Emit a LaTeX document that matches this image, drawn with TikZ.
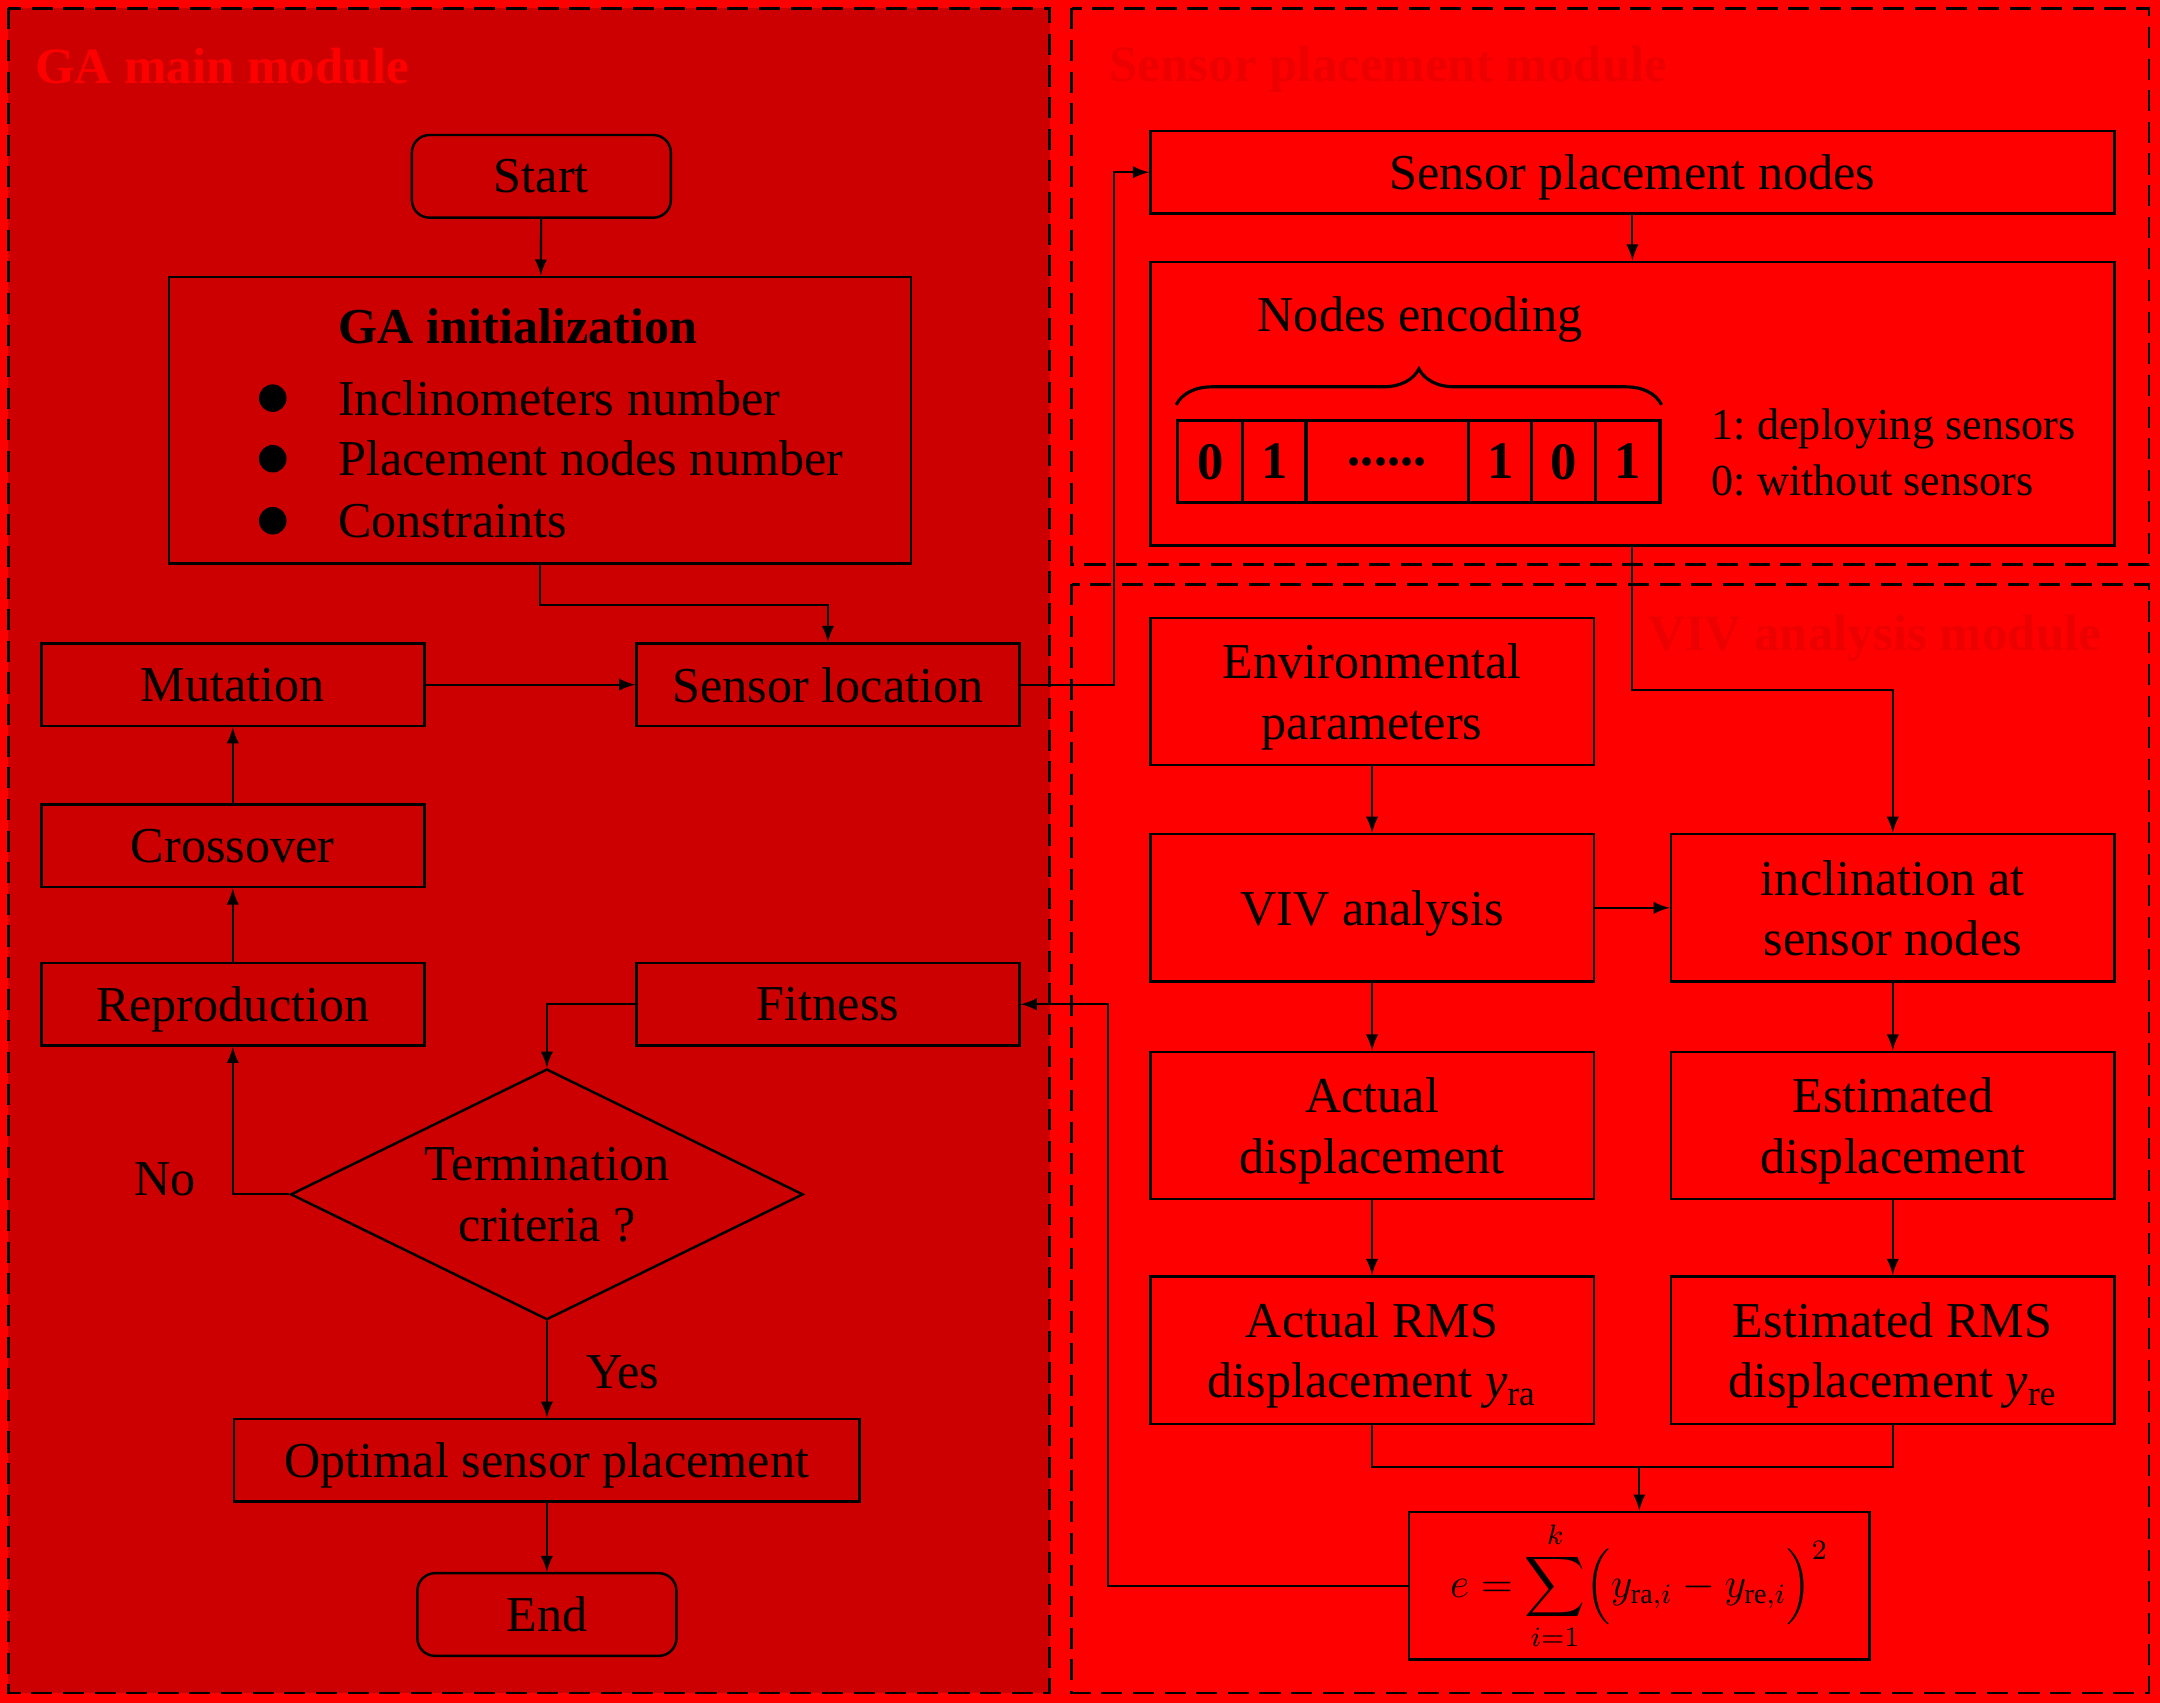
\documentclass[tikz,border=0pt]{standalone}
\usepackage{fontspec}
\setmainfont{Liberation Serif}
\usepackage{amsmath}
\usepackage{tikz}
\usetikzlibrary{shapes.geometric,decorations.pathreplacing,arrows}
\definecolor{vermelho}{RGB}{255,0,0}
\definecolor{vermelhoescuro}{RGB}{204,0,0}
\definecolor{titulodireito}{RGB}{236,0,0}
\newcommand{\unid}{0.013776cm}
\tikzstyle{caixa} = [rectangle, rounded corners=5pt, minimum width=188*\unid, minimum height=60*\unid, text centered, text depth=-0.1em, draw=black, line width=0.7pt, inner sep=0pt]
\tikzstyle{processo} = [rectangle, minimum width=278*\unid, minimum height=60*\unid, text centered, text depth=-0.1em, draw=black, line width=0.7pt, inner sep=0pt, align=center]
\tikzstyle{bloco} = [rectangle, minimum width=322*\unid, minimum height=107*\unid, text centered, text depth=-0.1em, draw=black, line width=0.7pt, inner sep=0pt, align=center]
\tikzstyle{decisao} = [diamond, aspect=2.04, minimum width=372*\unid, minimum height=182*\unid, text depth=-0.1em, draw=black, line width=0.7pt, inner sep=0pt, align=center]
\tikzstyle{celula} = [rectangle, minimum height=60*\unid, text depth=-0.1em, draw=black, line width=0.9pt, inner sep=0pt, font=\fontsize{15}{17}\selectfont\bfseries]
\tikzstyle{legenda} = [anchor=west, inner sep=0pt, font=\fontsize{12.6}{15}\selectfont]
\tikzstyle{modulo} = [dashed, dash pattern=on 6pt off 3pt, line width=0.8pt, draw=black]
\tikzstyle{titulo} = [font=\fontsize{14.5}{17}\selectfont\bfseries, inner sep=0pt]
\tikzstyle{seta} = [line width=0.6pt,->,>=latex]

\begin{document}
\begin{tikzpicture}[x=0.013776cm, y=-0.013776cm, font=\fontsize{14.3}{17.2}\selectfont]
        % Fundo e módulos
        \useasboundingbox (0,0) rectangle (1568,1236);
        \fill[vermelho] (0,0) rectangle (1568,1236);
        \draw[modulo, fill=vermelhoescuro] (6,6) rectangle (762,1229);
        \draw[modulo] (778,6) rectangle (1560,410);
        \draw[modulo] (778,424) rectangle (1560,1229);
        \node (tituloga) [titulo, text=vermelho, anchor=west] at (25,48) {GA main module};
        \node (titulosensor) [titulo, text=titulodireito, anchor=west] at (805,50) {Sensor placement module};
        \node (tituloviv) [titulo, text=titulodireito] at (1361,463) {VIV analysis module};
        % Módulo principal do GA
        \node (start) [caixa] at (393,128) {Start};
        \node (gainit) [processo, minimum width=539*\unid, minimum height=208*\unid] at (392,305) {};
        \node (gatitulo) [font=\fontsize{14.3}{17.2}\selectfont\bfseries] at (376,237) {GA initialization};
        \foreach \y/\t [count=\i] in {289/Inclinometers number, 333/Placement nodes number, 378/Constraints} {
            \fill (198,\y) circle[radius=10*\unid];
            \node (item\i) [anchor=west, inner sep=0pt] at (245,\y) {\t};
        }
        \node (sensorloc) [processo] at (601,497) {Sensor location};
        \node (mutation) [processo] at (169,497) {Mutation};
        \node (crossover) [processo] at (169,614) {Crossover};
        \node (reproduction) [processo] at (169,729) {Reproduction};
        \node (fitness) [processo] at (601,729) {Fitness};
        \node (termination) [decisao] at (397,867) {Termination\\criteria ?};
        \node (optimal) [processo, minimum width=454*\unid] at (397,1060) {Optimal sensor placement};
        \node (fim) [caixa] at (397,1172) {End};
        \node (no) at (120,856) {No};
        \node (yes) at (452,996) {Yes};
        % Codificação dos nós
        \node (sensornodes) [processo, minimum width=700*\unid] at (1185,125) {Sensor placement nodes};
        \node (encoding) [processo, minimum width=700*\unid, minimum height=206*\unid] at (1185,293) {};
        \node (encodingtitulo) at (1031,232) {Nodes encoding};
        \foreach \a/\b/\t [count=\i] in {855/902/0, 902/948/1, 948/1066/{......}, 1066/1112/1, 1112/1158/0, 1158/1205/1} {
            \node (celula\i) [celula, minimum width=(\b-\a)*\unid] at ({(\a+\b)/2},335) {\t};
        }
        \draw[decorate, decoration={brace, amplitude=0.36cm}, line width=0.9pt] (celula1.north west) ++(0,-10) -- ([yshift=10*\unid]celula6.north east);
        \node (legenda1) [legenda] at (1242,311) {1:\ deploying sensors};
        \node (legenda2) [legenda] at (1242,349) {0:\ without sensors};
        % Análise de VIV
        \node (env) [bloco] at (996,502) {Environmental\\parameters};
        \node (viv) [bloco] at (996,659) {VIV analysis};
        \node (inclination) [bloco] at (1374,659) {inclination at\\sensor nodes};
        \node (actual) [bloco] at (996,817) {Actual\\displacement};
        \node (estimated) [bloco] at (1374,817) {Estimated\\displacement};
        \node (actualrms) [bloco] at (996,980) {Actual RMS\\displacement \textit{y}\textsubscript{ra}};
        \node (estimatedrms) [bloco] at (1374,980) {Estimated RMS\\displacement \textit{y}\textsubscript{re}};
        \node (erro) [bloco, minimum width=334*\unid, text depth=, font=\fontsize{12}{14}\selectfont] at (1190,1151) {$\displaystyle e=\sum_{i=1}^{k}\Bigl(y_{\mathrm{ra},i}-y_{\mathrm{re},i}\Bigr)^{2}$};
        \coordinate (juncao) at (1190,1065);
        % Conexões do GA
        \draw [seta] (start) -- (gainit);
        \draw [seta] (gainit.south) -- ++(0,29) -| (sensorloc.north);
        \draw [seta] (mutation) -- (sensorloc);
        \draw [seta] (crossover) -- (mutation);
        \draw [seta] (reproduction) -- (crossover);
        \draw [seta] (fitness.west) -| (termination.north);
        \draw [seta] (termination.west) -| (reproduction.south);
        \draw [seta] (termination.south) -- (optimal);
        \draw [seta] (optimal) -- (fim);
        % Conexões dos outros módulos
        \draw [seta] (sensorloc.east) -- ++(68,0) |- (sensornodes.west);
        \draw [seta] (sensornodes) -- (encoding);
        \draw [seta] (encoding.south) -- ++(0,104) -| (inclination.north);
        \draw [seta] (env) -- (viv);
        \draw [seta] (viv) -- (inclination);
        \draw [seta] (viv) -- (actual);
        \draw [seta] (inclination) -- (estimated);
        \draw [seta] (actual) -- (actualrms);
        \draw [seta] (estimated) -- (estimatedrms);
        \draw [line width=0.6pt] (actualrms.south) |- (juncao) -| (estimatedrms.south);
        \draw [seta] (juncao) -- (erro.north);
        \draw [seta] (erro.west) -- ++(-218,0) |- (fitness.east);
    \end{tikzpicture}
\end{document}
